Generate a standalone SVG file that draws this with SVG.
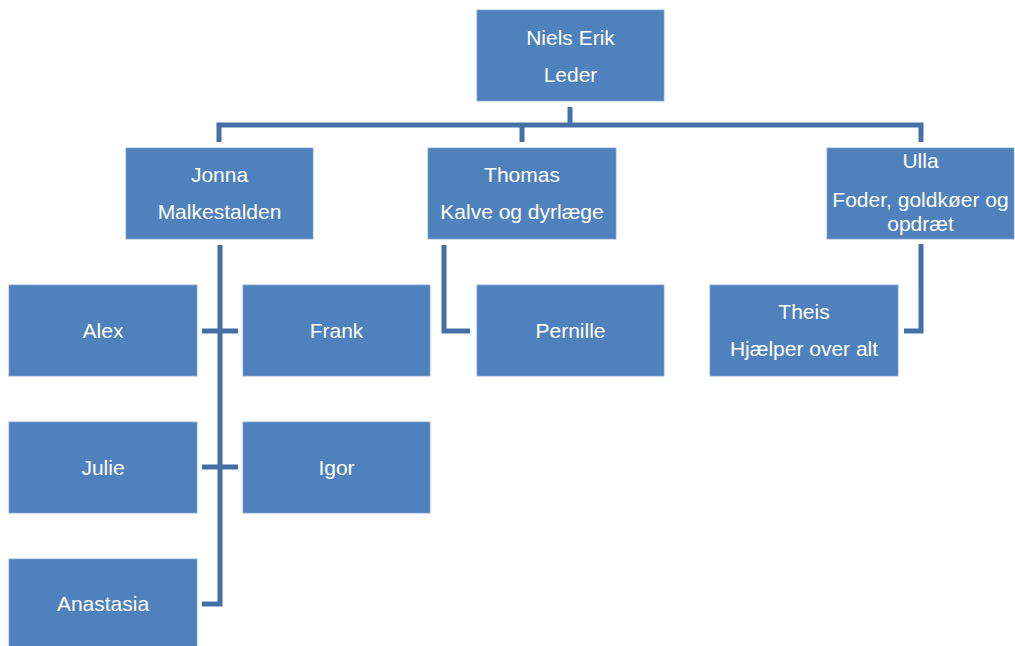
<svg xmlns="http://www.w3.org/2000/svg" width="1015" height="646" viewBox="0 0 1015 646">
<style>
.box{fill:#4F81BD;stroke:#7FA2D0;stroke-width:0.8}
.t{font-family:"Liberation Sans",Arial,sans-serif;font-size:21px;fill:#FFFFFF;text-anchor:middle}
.c{fill:none;stroke:#4470A6;stroke-width:5}
</style>
<rect width="1015" height="646" fill="#FFFFFF"/>
<g id="connectors">
<path class="c" d="M570,107 V125"/>
<path class="c" d="M219,142 V125 H921 V142"/>
<path class="c" d="M522,125 V142"/>
<path class="c" d="M220,245 V604 H202"/>
<path class="c" d="M202,331 H238"/>
<path class="c" d="M202,467 H238"/>
<path class="c" d="M444,245 V331 H470"/>
<path class="c" d="M921,244 V331 H904"/>
</g>
<g id="niels"><rect class="box" x="477" y="10" width="187" height="91"/><text class="t" x="570.5" y="45">Niels Erik</text><text class="t" x="570.5" y="82">Leder</text></g>
<g id="jonna"><rect class="box" x="126" y="148" width="187" height="91"/><text class="t" x="219.5" y="182">Jonna</text><text class="t" x="219.5" y="219">Malkestalden</text></g>
<g id="thomas"><rect class="box" x="428" y="148" width="188" height="91"/><text class="t" x="522" y="182">Thomas</text><text class="t" x="522" y="219">Kalve og dyrlæge</text></g>
<g id="ulla"><rect class="box" x="827" y="148" width="187" height="91"/><text class="t" x="920.5" y="168">Ulla</text><text class="t" x="920.5" y="207">Foder, goldkøer og</text><text class="t" x="920.5" y="231">opdræt</text></g>
<g id="alex"><rect class="box" x="9" y="285" width="188" height="91"/><text class="t" x="103" y="338">Alex</text></g>
<g id="frank"><rect class="box" x="243" y="285" width="187" height="91"/><text class="t" x="336.5" y="338">Frank</text></g>
<g id="pernille"><rect class="box" x="477" y="285" width="187" height="91"/><text class="t" x="570.5" y="338">Pernille</text></g>
<g id="theis"><rect class="box" x="710" y="285" width="188" height="91"/><text class="t" x="804" y="319">Theis</text><text class="t" x="804" y="356">Hjælper over alt</text></g>
<g id="julie"><rect class="box" x="9" y="422" width="188" height="91"/><text class="t" x="103" y="475">Julie</text></g>
<g id="igor"><rect class="box" x="243" y="422" width="187" height="91"/><text class="t" x="336.5" y="475">Igor</text></g>
<g id="anastasia"><rect class="box" x="9" y="559" width="188" height="91"/><text class="t" x="103" y="611">Anastasia</text></g>
</svg>
